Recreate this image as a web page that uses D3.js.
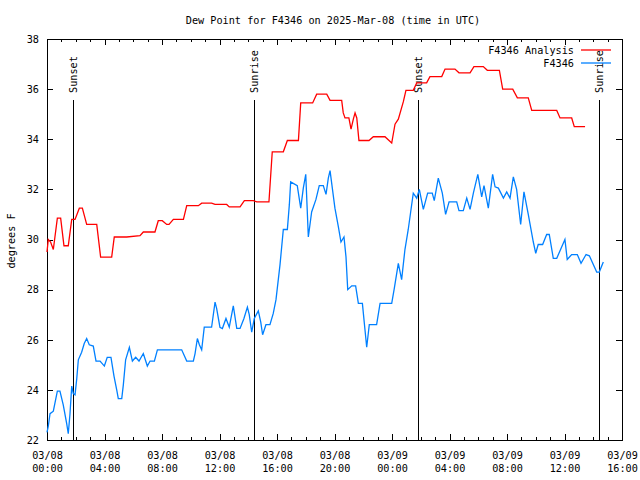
<!DOCTYPE html>
<html><head><meta charset="utf-8">
<script src="https://cdn.jsdelivr.net/npm/d3@7"></script>
<style>body{margin:0;background:#fff}svg{display:block}</style>
</head><body><svg id="c" width="640" height="480"></svg>
<script>
const titleText = "Dew Point for F4346 on 2025-Mar-08 (time in UTC)";
const yLabelText = "degrees F";
const startMs = Date.UTC(2025, 2, 8, 0, 0);
const spanHours = 40;
const yTicks = [22, 24, 26, 28, 30, 32, 34, 36, 38];
const xMajorHours = [0, 4, 8, 12, 16, 20, 24, 28, 32, 36, 40];
const seriesNames = ["F4346 Analysis", "F4346"];
const seriesColors = ["#ff0000", "#0080ff"];

const analysisHours = [0,0.09,0.25,0.44,0.72,0.95,1.18,1.48,1.72,1.95,2.25,2.46,2.76,3.46,3.73,4.5,4.68,5.54,6.47,6.7,7.51,7.74,8.02,8.33,8.49,8.79,9.49,9.72,10.53,10.76,11.45,11.69,12.5,12.68,13.43,13.73,14.36,14.59,15.44,15.67,16.44,16.72,17.49,17.65,18.48,18.76,19.46,19.69,20.5,20.61,20.73,21.0,21.15,21.31,21.43,21.55,21.7,22.4,22.7,23.51,23.98,24.21,24.44,24.79,24.97,25.48,25.72,26.41,26.64,27.46,27.69,28.38,28.66,29.43,29.7,30.35,30.63,31.47,31.7,32.4,32.72,33.48,33.72,35.46,35.69,36.5,36.68,37.43];
const analysisValues = [29.5,30.0,29.9,29.6,30.85,30.85,29.75,29.75,30.8,30.8,31.25,31.25,30.6,30.6,29.3,29.3,30.1,30.1,30.15,30.3,30.3,30.75,30.75,30.6,30.6,30.8,30.8,31.35,31.35,31.45,31.45,31.4,31.4,31.3,31.3,31.55,31.55,31.5,31.5,33.5,33.5,33.95,33.95,35.45,35.45,35.8,35.8,35.55,35.55,35.05,34.85,34.85,34.4,34.8,35.05,34.85,33.95,33.95,34.1,34.1,33.85,34.6,34.8,35.5,35.95,35.95,36.25,36.25,36.5,36.5,36.8,36.8,36.65,36.65,36.9,36.9,36.75,36.75,36.0,36.0,35.65,35.65,35.15,35.15,34.85,34.85,34.5,34.5];

const obsHours = [0,0.09,0.21,0.44,0.72,0.9,1.13,1.37,1.48,1.6,1.72,1.83,1.95,2.07,2.18,2.41,2.59,2.76,2.94,3.22,3.41,3.69,3.99,4.19,4.45,4.66,4.85,4.96,5.2,5.31,5.47,5.73,5.94,6.17,6.4,6.7,6.98,7.17,7.47,7.68,7.98,8.56,9.37,9.72,10.18,10.3,10.46,10.6,10.76,10.94,11.45,11.69,11.8,12.03,12.2,12.45,12.68,12.96,13.2,13.43,13.7,13.94,14.07,14.24,14.42,14.7,14.87,15.0,15.23,15.51,15.74,15.93,16.21,16.44,16.72,16.86,16.95,17.41,17.65,17.83,18.0,18.18,18.41,18.71,18.94,19.22,19.41,19.57,19.69,20.03,20.27,20.45,20.66,20.8,20.92,21.2,21.47,21.66,21.94,22.12,22.24,22.42,22.93,23.17,23.98,24.16,24.44,24.67,24.9,25.13,25.48,25.72,25.9,26.18,26.48,26.8,26.94,27.22,27.5,27.73,27.97,28.5,28.66,28.96,29.2,29.43,29.66,29.97,30.24,30.4,30.7,31.0,31.17,31.4,31.75,31.98,32.21,32.44,32.67,32.95,33.18,33.48,33.83,34.0,34.17,34.48,34.76,34.94,35.22,35.46,36.03,36.19,36.5,36.89,37.15,37.5,37.73,38.24,38.42,38.7];
const obsValues = [22.3,22.55,23.05,23.15,23.95,23.95,23.4,22.65,22.25,23.05,24.15,23.85,23.8,24.45,25.2,25.5,25.85,26.05,25.8,25.75,25.15,25.15,24.95,25.3,25.3,24.55,24.0,23.65,23.65,24.2,25.2,25.7,25.15,25.3,25.15,25.45,24.95,25.15,25.15,25.6,25.6,25.6,25.6,25.15,25.15,25.45,26.05,25.8,25.6,26.5,26.5,27.5,27.25,26.5,26.45,26.85,26.5,27.35,26.45,26.45,26.85,27.3,27.0,26.3,26.85,27.15,26.7,26.2,26.6,26.6,27.05,27.6,29.0,30.4,30.4,31.4,32.3,32.15,31.25,32.05,32.6,30.1,31.1,31.6,32.15,32.15,31.8,32.45,32.75,31.25,30.5,29.9,30.1,29.3,28.0,28.15,28.15,27.45,27.45,26.4,25.7,26.6,26.6,27.45,27.45,28.05,29.05,28.4,29.6,30.4,31.85,31.65,32.0,31.2,31.85,31.85,31.55,32.45,31.85,31.0,31.5,31.5,31.15,31.15,31.65,31.2,31.85,32.6,31.7,32.15,31.25,32.6,32.1,32.05,31.65,31.9,31.65,32.5,32.0,30.6,31.9,31.0,29.9,29.45,29.8,29.8,30.2,30.2,29.25,29.25,30.0,29.2,29.4,29.4,29.05,29.4,29.35,28.7,28.7,29.1];

const sunLabels = ["Sunset", "Sunrise", "Sunset", "Sunrise"];
const sunHours = [1.83, 14.42, 25.83, 38.42];

const toDate = h => new Date(startMs + h * 3600e3);
const font = "'DejaVu Sans Mono', monospace";

const L = 47, R = 622, T = 39, B = 440;
const svg = d3.select("#c");
svg.append("rect").attr("width", 640).attr("height", 480).attr("fill", "#fff");

const x = d3.scaleUtc().domain([toDate(0), toDate(spanHours)]).range([L, R]);
const y = d3.scaleLinear().domain([22, 38]).range([B, T]);

svg.append("text").attr("x", 333).attr("y", 24).attr("text-anchor", "middle")
  .attr("font-family", font).attr("font-size", 10.2).text(titleText);
svg.append("text").attr("transform", "translate(15,241) rotate(-90)").attr("text-anchor", "middle")
  .attr("font-family", font).attr("font-size", 10.2).text(yLabelText);

const minorHours = d3.range(0, spanHours + 1);

function styleAxis(g) {
  g.select(".domain").remove();
  g.selectAll("line").attr("stroke", "#000").attr("shape-rendering", "crispEdges");
  g.selectAll("text").attr("font-family", font).attr("font-size", 10.2).attr("fill", "#000");
}

svg.append("g").attr("transform", `translate(0,${B})`)
  .call(d3.axisBottom(x).tickValues(minorHours.map(toDate)).tickSize(-3).tickFormat(""))
  .call(styleAxis);
svg.append("g").attr("transform", `translate(0,${T})`)
  .call(d3.axisTop(x).tickValues(minorHours.map(toDate)).tickSize(-3).tickFormat(""))
  .call(styleAxis);
const fmtD = d3.utcFormat("%m/%d"), fmtT = d3.utcFormat("%H:%M");
const xb = svg.append("g").attr("transform", `translate(0,${B})`)
  .call(d3.axisBottom(x).tickValues(xMajorHours.map(toDate)).tickSize(-6).tickPadding(0).tickFormat(""))
  .call(styleAxis);
xb.selectAll(".tick").each(function(d) {
  const t = d3.select(this).append("text").attr("text-anchor", "middle")
    .attr("font-family", font).attr("font-size", 10.2).attr("fill", "#000");
  t.append("tspan").attr("x", 0).attr("y", 19).text(fmtD(d));
  t.append("tspan").attr("x", 0).attr("y", 32).text(fmtT(d));
});
svg.append("g").attr("transform", `translate(0,${T})`)
  .call(d3.axisTop(x).tickValues(xMajorHours.map(toDate)).tickSize(-6).tickFormat(""))
  .call(styleAxis);
svg.append("g").attr("transform", `translate(${L},0)`)
  .call(d3.axisLeft(y).tickValues(yTicks).tickSize(-6).tickPadding(8).tickFormat(d3.format("d")))
  .call(styleAxis);
svg.append("g").attr("transform", `translate(${R},0)`)
  .call(d3.axisRight(y).tickValues(yTicks).tickSize(-6).tickFormat(""))
  .call(styleAxis);

svg.append("rect").attr("x", L).attr("y", T).attr("width", R - L).attr("height", B - T)
  .attr("fill", "none").attr("stroke", "#000").attr("shape-rendering", "crispEdges");

sunHours.forEach((h, i) => {
  const sx = Math.round(x(toDate(h)));
  svg.append("line").attr("x1", sx).attr("x2", sx).attr("y1", 100).attr("y2", B)
    .attr("stroke", "#000").attr("shape-rendering", "crispEdges");
  svg.append("text").attr("transform", `translate(${sx + 4},93) rotate(-90)`)
    .attr("font-family", font).attr("font-size", 10.2).text(sunLabels[i]);
});

const line = d3.line().x(d => x(toDate(d[0]))).y(d => y(d[1]));
const series = [d3.zip(analysisHours, analysisValues), d3.zip(obsHours, obsValues)];
series.forEach((s, i) => {
  svg.append("path").datum(s).attr("d", line).attr("fill", "none")
    .attr("stroke", seriesColors[i]).attr("stroke-width", 1.3);
});

seriesNames.forEach((n, i) => {
  const ly = 50 + i * 13;
  svg.append("text").attr("x", 574).attr("y", ly + 4).attr("text-anchor", "end")
    .attr("font-family", font).attr("font-size", 10.2).text(n);
  svg.append("line").attr("x1", 581).attr("x2", 611).attr("y1", ly).attr("y2", ly)
    .attr("stroke", seriesColors[i]).attr("stroke-width", 1.3);
});
</script></body></html>
